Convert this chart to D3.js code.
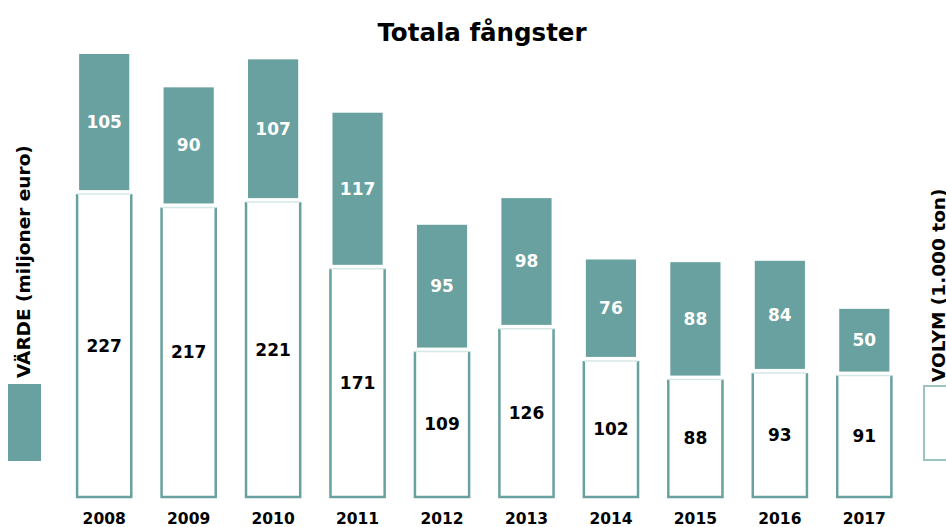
<!DOCTYPE html>
<html>
<head>
<meta charset="utf-8">
<script src="https://cdn.jsdelivr.net/npm/d3@7"></script>
<style>
  body { margin: 0; background: #fff; }
  svg { display: block; font-family: "DejaVu Sans", sans-serif; }
</style>
</head>
<body>
<div id="chart"></div>
<script>
const years = ['2008', '2009', '2010', '2011', '2012', '2013', '2014', '2015', '2016', '2017']
const volume = [227, 217, 221, 171, 109, 126, 102, 88, 93, 91]   // 1.000 ton
const value = [105, 90, 107, 117, 95, 98, 76, 88, 84, 50]        // miljoner euro

const TEAL = '#68a19f'
const W = 946, H = 527
const BASE = 497

const svg = d3.select('#chart').append('svg')
  .attr('width', W)
  .attr('height', H)

const x = d3.scaleBand()
  .domain(years)
  .range([62, 906.5])
  .paddingInner(0.335)
  .paddingOuter(0.167)

const y = d3.scaleLinear()
  .domain([0, 332])
  .range([BASE, 54])

const data = years.map((yr, i) => ({ yr, vol: volume[i], val: value[i] }))
const GAP = 4

// title
svg.append('text')
  .attr('x', 482)
  .attr('y', 41)
  .attr('text-anchor', 'middle')
  .style('font-size', '24.5px')
  .style('font-weight', 'bold')
  .text('Totala fångster')

// volume bars (white, outlined)
const vol = svg.append('g').selectAll('g')
  .data(data)
  .enter().append('g')

vol.append('rect')
  .attr('x', d => x(d.yr) + 1)
  .attr('y', d => y(d.vol))
  .attr('width', x.bandwidth() - 2)
  .attr('height', d => BASE - y(d.vol))
  .attr('fill', '#fff')

vol.append('path')
  .attr('d', d => {
    const x0 = x(d.yr) + 1, x1 = x(d.yr) + x.bandwidth() - 1
    return `M${x0},${y(d.vol)}V${BASE}H${x1}V${y(d.vol)}`
  })
  .attr('fill', 'none')
  .attr('stroke', TEAL)
  .attr('stroke-width', 2.5)

vol.append('line')
  .attr('x1', d => x(d.yr) + 1)
  .attr('x2', d => x(d.yr) + x.bandwidth() - 1)
  .attr('y1', d => y(d.vol))
  .attr('y2', d => y(d.vol))
  .attr('stroke', '#d5e8e6')
  .attr('stroke-width', 1.5)

vol.append('text')
  .attr('x', d => x(d.yr) + x.bandwidth() / 2)
  .attr('y', d => (y(d.vol) + BASE) / 2 + 6)
  .attr('text-anchor', 'middle')
  .style('font-size', '17px')
  .style('font-weight', 'bold')
  .attr('fill', '#000')
  .text(d => d.vol)

// value bars (teal), stacked on top with a small gap
const inset = 3
const val = svg.append('g').selectAll('g')
  .data(data)
  .enter().append('g')

val.append('rect')
  .attr('x', d => x(d.yr) + inset)
  .attr('y', d => y(d.vol + d.val))
  .attr('width', x.bandwidth() - inset * 2)
  .attr('height', d => y(d.vol) - GAP - y(d.vol + d.val))
  .attr('fill', TEAL)

val.append('text')
  .attr('x', d => x(d.yr) + x.bandwidth() / 2)
  .attr('y', d => (y(d.vol + d.val) + y(d.vol) - GAP) / 2 + 6)
  .attr('text-anchor', 'middle')
  .style('font-size', '17px')
  .style('font-weight', 'bold')
  .attr('fill', '#fff')
  .text(d => d.val)

// year labels
const xAxis = svg.append('g')
  .attr('transform', `translate(0, ${BASE})`)
  .call(d3.axisBottom(x).tickSize(0).tickPadding(16))
xAxis.select('.domain').remove()
xAxis.selectAll('text')
  .style('font-family', '"DejaVu Sans", sans-serif')
  .style('font-size', '15.5px')
  .style('font-weight', 'bold')
  .attr('fill', '#000')

// left legend: value
svg.append('rect')
  .attr('x', 8).attr('y', 384)
  .attr('width', 33).attr('height', 77)
  .attr('fill', TEAL)

svg.append('text')
  .attr('transform', 'translate(30, 378) rotate(-90)')
  .style('font-size', '18.5px')
  .style('font-weight', 'bold')
  .text('VÄRDE (miljoner euro)')

// right legend: volume
svg.append('rect')
  .attr('x', 924).attr('y', 386)
  .attr('width', 30).attr('height', 74)
  .attr('fill', '#fff')
  .attr('stroke', '#9cc3c1')
  .attr('stroke-width', 2)

svg.append('text')
  .attr('transform', 'translate(945, 382) rotate(-90)')
  .style('font-size', '18.5px')
  .style('font-weight', 'bold')
  .text('VOLYM (1.000 ton)')
</script>
</body>
</html>
